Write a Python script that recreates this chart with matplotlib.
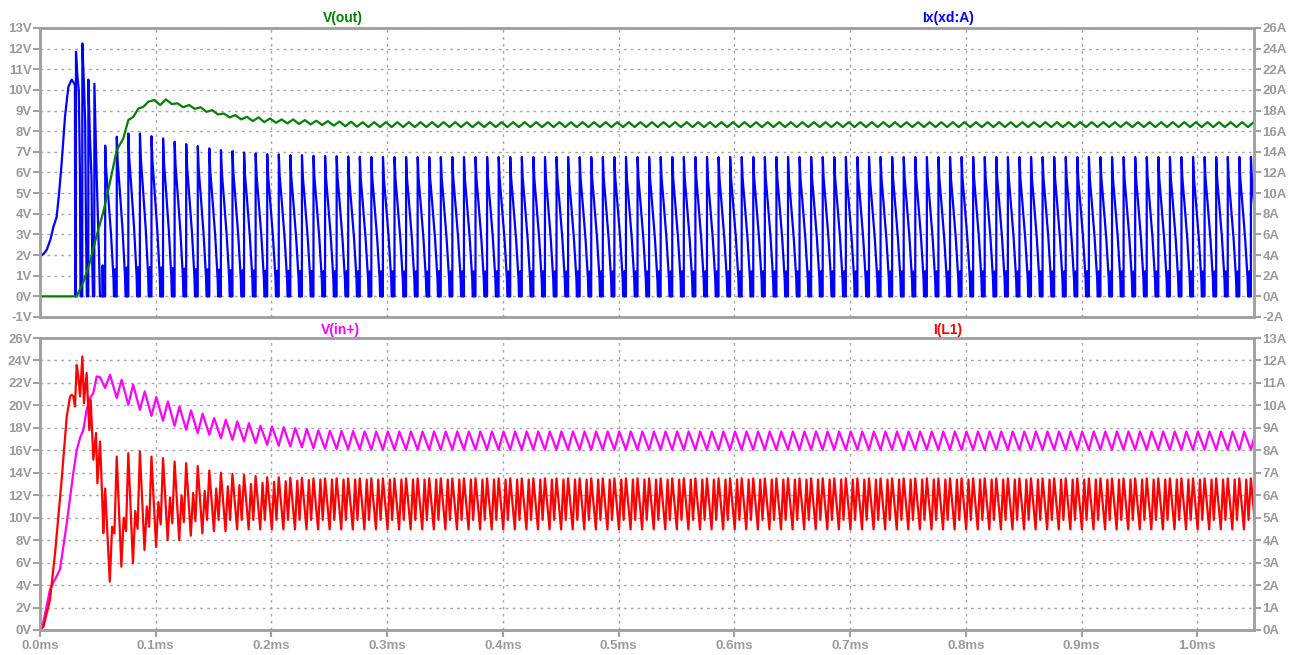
"""Boost converter start-up transient: V(out)/Ix(xd:A) and V(in+)/I(L1) panes."""

import matplotlib

matplotlib.use("Agg")
import matplotlib.pyplot as plt
import numpy as np
from matplotlib.ticker import FixedLocator, FuncFormatter

PERIOD = 0.010   # ms, 100 kHz switching
T_FIRST = 0.0563  # ms, first regular switching edge
N_CYCLES = 100
X_MAX = 1.049

GRID = "#a8a8a8"
AXIS = "#a0a0a0"
LABEL = "#9a9a9a"

# ---- V(out) [V] ------------------------------------------------------------
vout_start_t = [0.0, 0.0317, 0.0374, 0.0432, 0.0490, 0.0547, 0.0605, 0.0663,
                0.0720, 0.0763, 0.0807, 0.0850, 0.0893, 0.0936]
vout_start_v = [0.0, 0.0, 0.69, 1.66, 2.96, 4.09, 5.54, 7.08,
                7.65, 8.54, 8.70, 9.10, 9.18, 9.43]
VOUT_FIRST = 4  # ripple pattern from switching cycle 4 on
vout_crest = [9.51, 9.54, 9.35, 9.27, 9.16, 9.02, 8.86, 8.78, 8.70, 8.67,
              8.62, 8.57, 8.57, 8.54, 8.51, 8.49, 8.47, 8.46]
vout_crest += [8.44] * (N_CYCLES - VOUT_FIRST - len(vout_crest))
vout_trough = [9.27, 9.32, 9.16, 9.08, 8.94, 8.81, 8.67, 8.57, 8.49, 8.44,
               8.41, 8.38, 8.35, 8.33, 8.30, 8.27, 8.24, 8.22]
vout_trough += [8.20] * (N_CYCLES - VOUT_FIRST - len(vout_trough))

# ---- Ix(xd:A) [A] ----------------------------------------------------------
ix_start_t = [0.0, 0.0002, 0.0030, 0.0058, 0.0090, 0.0115, 0.0144, 0.0165,
              0.0187, 0.0216, 0.0245, 0.0274, 0.0296, 0.0302, 0.0304,
              0.0310, 0.0311, 0.0322, 0.0335, 0.0345, 0.0350,
              0.0365, 0.0366, 0.0380, 0.0390, 0.0398, 0.0405,
              0.0417, 0.0418, 0.0430, 0.0445, 0.0452, 0.0458,
              0.0469, 0.0470, 0.0490, 0.0510, 0.0518,
              0.0540, 0.0541, 0.0545, 0.0562]
ix_start_a = [0.0, 3.9, 4.1, 4.5, 5.5, 6.7, 7.7, 10.0,
              12.9, 17.4, 20.3, 21.0, 20.6, 20.4, 0.0,
              0.0, 23.7, 21.5, 20.0, 12.0, 0.0,
              0.0, 24.5, 20.5, 17.0, 6.0, 0.0,
              0.0, 21.0, 16.0, 11.5, 3.0, 0.0,
              0.0, 20.6, 11.5, 4.0, 0.0,
              0.0, 3.0, 0.0, 0.0]
ix_peak = [14.6, 15.46, 15.78, 15.78, 15.52, 15.3, 14.98, 14.75, 14.56, 14.33,
           14.17, 14.07, 13.94, 13.84, 13.78, 13.75, 13.68, 13.68, 13.62, 13.6,
           13.58, 13.55, 13.52]
ix_peak += [13.5] * (N_CYCLES - len(ix_peak))
# diode current tooth: offset in us, level as share of the cycle peak
ix_tooth_us = [0.0, 0.05, 0.8, 2.5, 5.0, 7.2, 7.6, 8.6, 8.7, 9.1, 9.95]
ix_tooth_frac = [0.0, 1.0, 0.85, 0.68, 0.42, 0.12, 0.0, 0.0, 0.18, 0.0, 0.0]

# ---- V(in+) [V] ------------------------------------------------------------
vin_start_t = [0.0, 0.003, 0.0086, 0.0173, 0.0231, 0.0288, 0.0317, 0.0346,
               0.0374, 0.0403, 0.0432, 0.0461, 0.0490, 0.0519]
vin_start_v = [0.0, 0.74, 3.6, 5.4, 9.5, 14.0, 16.0, 17.1,
               17.8, 19.6, 20.65, 21.1, 22.58, 22.5]
vin_trough = [21.54, 20.65, 20.05, 19.6, 19.07, 18.63, 18.18, 17.83, 17.53, 17.38,
              17.08, 16.93, 16.79, 16.64, 16.49, 16.4, 16.34, 16.28, 16.19, 16.15,
              16.12, 16.1, 16.08]
vin_trough += [16.05] * (N_CYCLES - len(vin_trough))
vin_crest = [22.73, 22.28, 21.84, 21.24, 20.74, 20.35, 19.9, 19.55, 19.25, 18.87,
             18.72, 18.57, 18.42, 18.18, 18.12, 18.06, 17.97, 17.88, 17.77, 17.74,
             17.72, 17.70, 17.68]
vin_crest += [17.67] * (N_CYCLES - len(vin_crest))

# ---- I(L1) [A] -------------------------------------------------------------
il_start_t = [0.0, 0.003, 0.0086, 0.013, 0.0187, 0.0231, 0.0260, 0.0274,
              0.0288, 0.0302, 0.0317, 0.0331, 0.0346, 0.0366, 0.0380, 0.0403,
              0.0426, 0.0438, 0.0461, 0.0484, 0.0496, 0.0519, 0.0539, 0.0547]
il_start_a = [0.0, 0.15, 1.34, 3.42, 6.68, 9.5, 10.4, 10.47,
              10.4, 9.95, 11.8, 11.29, 10.4, 12.18, 10.1, 11.44,
              8.9, 10.25, 7.58, 8.77, 6.54, 8.39, 5.65, 4.31]
il_peak = [6.3, 7.72, 7.87, 7.95, 7.72, 7.65, 7.5, 7.43, 7.3, 7.1,
           7.0, 6.95, 6.9, 6.85, 6.8, 6.8, 6.78, 6.77]
il_peak += [6.75] * (N_CYCLES - len(il_peak))
il_dip = [2.15, 2.82, 2.97, 3.56, 3.7, 4.0, 4.0, 4.2, 4.3, 4.4, 4.4]
il_dip += [4.48] * (N_CYCLES - len(il_dip))
il_sub_peak = [4.6, 5.0, 5.3, 5.5, 5.7, 5.9, 6.0, 6.1, 6.2, 6.3,
               6.4, 6.45, 6.5, 6.55, 6.6, 6.62, 6.65, 6.68]
il_sub_peak += [6.7] * (N_CYCLES - len(il_sub_peak))
il_sub_dip = [4.3, 4.4, 4.5, 4.6, 4.7, 4.75, 4.8, 4.85]
il_sub_dip += [4.9] * (N_CYCLES - len(il_sub_dip))


def switching_trace(start_t, start_y, offsets_us, levels, first=0):
    """Start-up points followed by one vertex per (offset, level) each cycle."""
    t, y = list(start_t), list(start_y)
    for k in range(first, N_CYCLES):
        t0 = T_FIRST + k * PERIOD
        for off, lev in zip(offsets_us, levels):
            t.append(t0 + off / 1000.0)
            y.append(lev[k - first])
    return np.array(t), np.array(y)


def style_axis(ax, unit, ticks, side):
    ax.set_yticks(ticks)
    ax.yaxis.set_major_formatter(FuncFormatter(lambda v, _: f"{v:.0f}{unit}"))
    ax.tick_params(axis="y", which="both", direction="out", length=5, width=1.5,
                   color=AXIS, labelcolor=LABEL, labelsize=9.5, pad=1,
                   left=(side == "left"), right=(side == "right"),
                   labelleft=(side == "left"), labelright=(side == "right"))
    for lab in ax.get_yticklabels():
        lab.set_fontweight("bold")
    for sp in ax.spines.values():
        sp.set_color(AXIS)
        sp.set_linewidth(1.8)


vout_t, vout_v = switching_trace(vout_start_t, vout_start_v, [2.5, 7.5],
                                 [vout_crest, vout_trough], first=VOUT_FIRST)
tooth_levels = [[p * f for p in ix_peak] for f in ix_tooth_frac]
ix_t, ix_a = switching_trace(ix_start_t, ix_start_a, ix_tooth_us, tooth_levels)
vin_t, vin_v = switching_trace(vin_start_t, vin_start_v, [0.0, 4.2],
                               [vin_trough, vin_crest])
il_t, il_a = switching_trace(il_start_t, il_start_a, [0.0, 4.0, 6.0, 8.0],
                             [il_peak, il_dip, il_sub_peak, il_sub_dip])

plt.rcParams["font.family"] = ["Liberation Sans", "DejaVu Sans"]
W, H = 1296, 655
fig = plt.figure(figsize=(W / 100, H / 100), dpi=100)
left, right = 40 / W, 1254 / W
top_ax = fig.add_axes([left, 1 - 317 / H, right - left, (317 - 28) / H])
bot_ax = fig.add_axes([left, 1 - 630 / H, right - left, (630 - 338) / H])

x_ticks = np.round(np.arange(0, 1.01, 0.1), 1)
grid_style = dict(color=GRID, ls=(0, (2, 3)), lw=1)
lw = 1.6

# top pane: Ix on the right scale underneath, V(out) drawn on top
top_r = top_ax.twinx()
top_r.set_zorder(top_ax.get_zorder() - 1)
top_ax.patch.set_visible(False)
top_r.plot(ix_t, ix_a, color="#0000ff", lw=lw)
top_ax.plot(vout_t, vout_v, color="#008000", lw=lw)
top_ax.set_ylim(-1, 13)
top_r.set_ylim(-2, 26)
style_axis(top_ax, "V", range(-1, 14), "left")
style_axis(top_r, "A", range(-2, 27, 2), "right")
top_r.xaxis.set_visible(True)
for ax in (top_ax, top_r):
    ax.set_xlim(0, X_MAX)
    ax.xaxis.set_major_locator(FixedLocator(x_ticks))
    ax.tick_params(axis="x", length=0, labelbottom=False)
top_r.grid(True, **grid_style)

# bottom pane: V(in+) on the left scale, I(L1) on the right scale above it
bot_r = bot_ax.twinx()
bot_ax.plot(vin_t, vin_v, color="#ff00ff", lw=lw)
bot_r.plot(il_t, il_a, color="#ff0000", lw=lw)
bot_ax.set_ylim(0, 26)
bot_r.set_ylim(0, 13)
style_axis(bot_ax, "V", range(0, 27, 2), "left")
style_axis(bot_r, "A", range(0, 14), "right")
bot_ax.grid(True, **grid_style)
for ax in (bot_ax, bot_r):
    ax.set_xlim(0, X_MAX)
    ax.xaxis.set_major_locator(FixedLocator(x_ticks))
bot_ax.xaxis.set_major_formatter(FuncFormatter(lambda v, _: f"{v:.1f}ms"))
bot_ax.tick_params(axis="x", direction="out", length=5, width=1.5, color=AXIS,
                   labelcolor=LABEL, labelsize=9.5, pad=2)
for lab in bot_ax.get_xticklabels():
    lab.set_fontweight("bold")

# trace names above each pane
names = [("V(out)", "#008000", 343, 18), ("Ix(xd:A)", "#0000ff", 948, 18),
         ("V(in+)", "#ff00ff", 340, 330), ("I(L1)", "#ff0000", 948, 330)]
for text, color, x, y in names:
    fig.text(x / W, 1 - y / H, text, color=color, fontsize=10,
             fontweight="bold", ha="center", va="center")

fig.savefig("out.png", dpi=100)
